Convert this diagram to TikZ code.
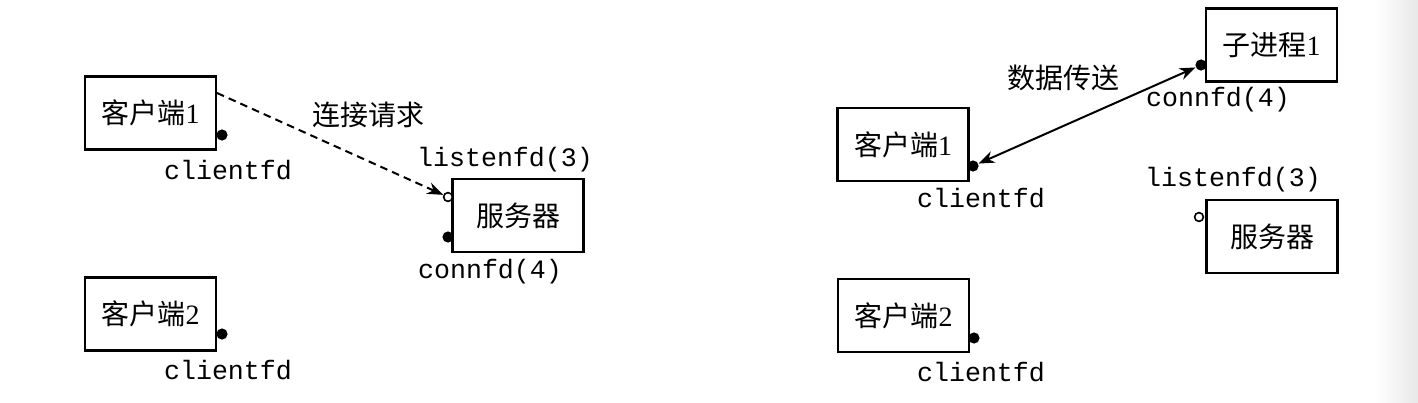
\documentclass[tikz,border=0pt]{standalone}
\usepackage{fontspec}
\setmainfont{Liberation Serif}
\setmonofont{Liberation Mono}
\newfontfamily\cjk{Noto Sans CJK SC}
\usetikzlibrary{arrows.meta}
\begin{document}
\begin{tikzpicture}[x=0.5pt,y=-0.5pt,
  >={Stealth[length=8pt,width=6pt]},
  box/.style={draw,line width=1.2pt,minimum width=65.5pt,minimum height=36.5pt,inner sep=0pt,
    font=\fontsize{14pt}{16pt}\selectfont},
  lbl/.style={inner sep=0pt,font=\fontsize{14pt}{16pt}\selectfont\cjk},
  fd/.style={inner sep=0pt,font=\fontsize{13.3pt}{16pt}\selectfont\ttfamily},
  fdot/.style={circle,fill,inner sep=0pt,minimum size=5.6pt},
  hdot/.style={circle,draw,fill=white,line width=0.8pt,inner sep=0pt,minimum size=4.4pt}]
\useasboundingbox (0,0) rectangle (1418,402);
\shade[left color=white,right color=black!9] (1375,0) rectangle (1418,402);
% ---------- left panel ----------
\node[box] (lc1) at (150.5,113) {{\cjk 客户端}1};
\node[box] (lc2) at (150.5,314) {{\cjk 客户端}2};
\node[box] (lsv) at (518,215.5) {\cjk 服务器};
\node[fdot] (lc1d) at (222,135) {};
\node[fdot] (lc2d) at (222,334) {};
\node[fdot] (lcon) at (448,237) {};
\node[hdot] (lls) at (448,197) {};
\node[fd] (lc1t) at (228,170) {clientfd};
\node[fd] (lc2t) at (228,370) {clientfd};
\node[fd] (llst) at (505,160) {listenfd(3)};
\node[fd] (lcont) at (490,272) {connfd(4)};
\node[lbl] (lreq) at (368,115) {连接请求};
\coordinate (lc1out) at (217,93);
\draw[line width=1pt,dash pattern=on 3.8pt off 2.6pt,->] (lc1out) -- (lls);
% ---------- right panel ----------
\node[box] (rc1) at (903,144.5) {{\cjk 客户端}1};
\node[box] (rch) at (1271.5,45) {{\cjk 子进程}1};
\node[box] (rsv) at (1272,236.5) {\cjk 服务器};
\node[box] (rc2) at (903.5,315.5) {{\cjk 客户端}2};
\node[fdot] (rc1d) at (973,166) {};
\node[fdot] (rchd) at (1201,65) {};
\node[fdot] (rc2d) at (974,338) {};
\node[hdot] (rls) at (1199,217) {};
\node[fd] (rc1t) at (981,198) {clientfd};
\node[fd] (rc2t) at (981,372) {clientfd};
\node[fd] (rcont) at (1218,100) {connfd(4)};
\node[fd] (rlst) at (1233,180) {listenfd(3)};
\node[lbl] (rdata) at (1063,78) {数据传送};
\draw[line width=1pt,<->] (rc1d) -- (rchd);
\end{tikzpicture}
\end{document}
